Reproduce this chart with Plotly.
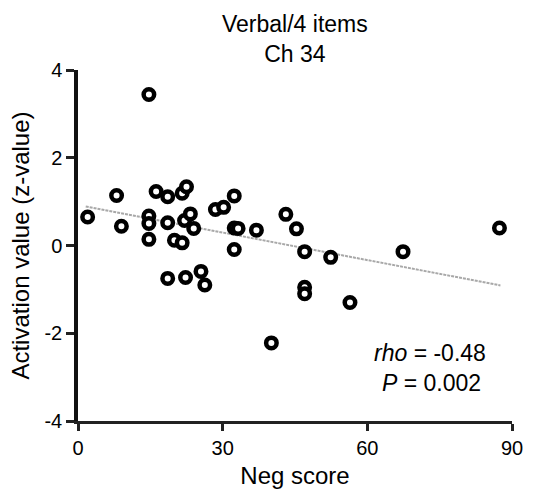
import plotly.graph_objects as go

# Data
neg_score = [2, 8, 9, 14.7, 14.7, 14.7, 14.7, 16.2, 18.6, 18.6, 18.6, 20, 21.6, 21.6,
             22.5, 22.1, 23.3, 22.3, 24, 25.5, 26.3, 28.5, 30.2, 32.4, 32.4, 33.2, 32.4,
             37, 40.1, 43.1, 45.3, 47, 47, 47, 52.4, 56.4, 67.4, 87.4]
activation = [0.65, 1.14, 0.44, 3.44, 0.67, 0.5, 0.14, 1.23, 1.11, 0.52, -0.75, 0.12, 0.06,
              1.19, 1.34, 0.57, 0.72, -0.73, 0.39, -0.59, -0.9, 0.82, 0.87, 1.13, 0.4, 0.39,
              -0.09, 0.35, -2.22, 0.71, 0.38, -0.14, -0.95, -1.1, -0.27, -1.3, -0.14, 0.4]
fit_x = [1.6, 87.6]
fit_y = [0.89, -0.91]
x_ticks = [0, 30, 60, 90]
y_ticks = [-4, -2, 0, 2, 4]
title_lines = ["Verbal/4 items", "Ch 34"]
stats_text = ["<i>rho</i> = -0.48", "<i>P</i> = 0.002"]

FONT = "Liberation Sans, Arial, sans-serif"

fig = go.Figure()
fig.add_trace(go.Scatter(
    x=fit_x, y=fit_y, mode="lines",
    line=dict(color="#a8a8a8", width=2, dash="3px,1px"),
    hoverinfo="skip", showlegend=False))
fig.add_trace(go.Scatter(
    x=neg_score, y=activation, mode="markers",
    marker=dict(symbol="circle", size=10.5, color="white",
                line=dict(color="black", width=4.5)),
    showlegend=False, cliponaxis=False))

fig.add_annotation(x=0.5, y=1, xref="paper", yref="paper", xanchor="center",
                   yanchor="bottom", yshift=1, text="<br>".join(title_lines),
                   showarrow=False, font=dict(family=FONT, size=23, color="black"))
fig.add_annotation(x=72.9, y=-2.45, xref="x", yref="y", text=stats_text[0],
                   showarrow=False, font=dict(family=FONT, size=23, color="black"))
fig.add_annotation(x=73.4, y=-3.14, xref="x", yref="y", text=stats_text[1],
                   showarrow=False, font=dict(family=FONT, size=23, color="black"))

fig.update_layout(
    width=533, height=489,
    margin=dict(l=78, r=21, t=70, b=68, autoexpand=False),
    paper_bgcolor="white", plot_bgcolor="white",
    font=dict(family=FONT, color="black"),
)
fig.update_xaxes(
    range=[0, 90], tickvals=x_ticks, ticktext=[str(v) for v in x_ticks],
    showgrid=False, zeroline=False, automargin=False,
    showline=True, linecolor="#222", linewidth=3,
    ticks="outside", ticklen=7, tickwidth=3, tickcolor="#222",
    tickfont=dict(family=FONT, size=20, color="black"),
    title=dict(text="Neg score", font=dict(family=FONT, size=24, color="black"), standoff=12),
)
fig.update_yaxes(
    range=[-4, 4], tickvals=y_ticks, ticktext=[str(v) for v in y_ticks],
    showgrid=False, zeroline=False, automargin=False,
    showline=True, linecolor="#111", linewidth=3.5,
    ticks="outside", ticklen=8, tickwidth=3, tickcolor="#222",
    tickfont=dict(family=FONT, size=20, color="black"),
    title=dict(text="Activation value (z-value)", font=dict(family=FONT, size=24, color="black"), standoff=9),
)

fig.write_html("out.html")
